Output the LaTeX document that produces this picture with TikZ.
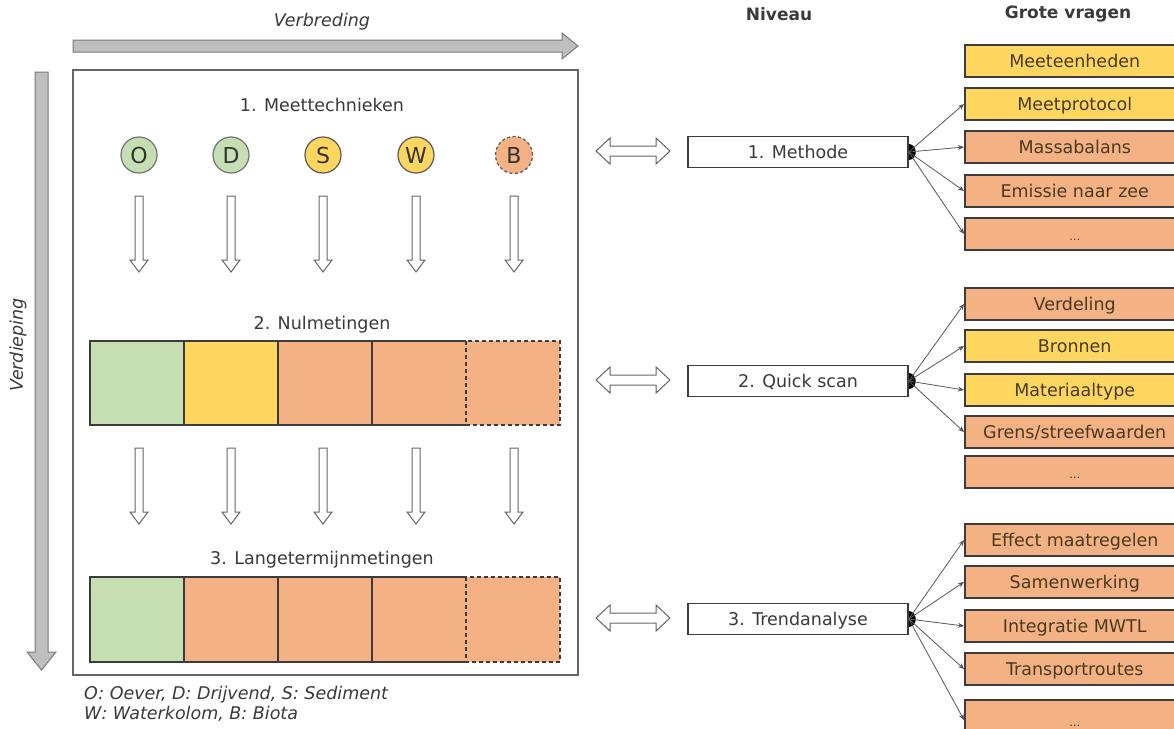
\documentclass[tikz,border=0pt]{standalone}
\usepackage{fontspec}
\setmainfont{DejaVu Sans}
\usetikzlibrary{arrows.meta,backgrounds}
\definecolor{cgreen}{HTML}{C5DFB2}
\definecolor{cyellow}{HTML}{FFD760}
\definecolor{corange}{HTML}{F4B183}
\definecolor{cline}{HTML}{3C3C3C}
\definecolor{qtext}{HTML}{4A3A1E}
\definecolor{ctext}{HTML}{3A3A3A}
\definecolor{bigfill}{HTML}{BFBFBF}
\definecolor{bigline}{HTML}{7A7A7A}
\begin{document}
\begin{tikzpicture}[x=1pt,y=-1pt,
  txt/.style={font=\fontsize{17.5}{20}\selectfont, text=ctext, inner sep=0pt},
  itx/.style={font=\fontsize{17.5}{21}\selectfont\itshape, text=ctext, inner sep=0pt},
  hdr/.style={font=\fontsize{17}{20}\selectfont\bfseries, text=ctext, inner sep=0pt},
  circ/.style={circle, draw, line width=1.2pt, minimum size=36pt, inner sep=0pt, font=\fontsize{22}{24}\selectfont, text=black!80},
  qbox/.style={draw=cline, line width=1.5pt, minimum width=220pt, minimum height=32pt, inner sep=0pt, text height=14pt, text depth=1pt, anchor=west, font=\fontsize{17.5}{20}\selectfont, text=qtext},
  lvl/.style={draw=cline, line width=1.5pt, fill=white, minimum width=220pt, minimum height=31pt, inner sep=0pt, text height=14pt, text depth=1pt, font=\fontsize{17.5}{20}\selectfont, text=ctext},
  conn/.style={draw=black!65, line width=0.8pt, -{Stealth[length=6pt,width=5pt,fill=black]}},
  outarrow/.style={draw=black!60, line width=1pt, fill=white},
  bigarrow/.style={draw=bigline, line width=1pt, fill=bigfill},
  sq/.style={line width=1.3pt, draw=cline},
  dsq/.style={line width=1.3pt, draw=cline, dash pattern=on 4pt off 3pt},
  darrow/.pic={\path[outarrow] (-4,0) -- (4,0) -- (4,64) -- (9,64) -- (0,76) -- (-9,64) -- (-4,64) -- cycle;},
  dblarrow/.pic={\path[outarrow] (0,0) -- (14,-13) -- (14,-5) -- (60,-5) -- (60,-13) -- (74,0) -- (60,13) -- (60,5) -- (14,5) -- (14,13) -- cycle;}
]
\clip (0,0) rectangle (1174,728);
\begin{scope}[on background layer]
  \fill[white] (0,0) rectangle (1174,728);
\end{scope}

% big gray arrows
\node[itx] (verbreding) at (322,22) {Verbreding};
\path[bigarrow] (73,40) -- (562,40) -- (562,33) -- (578,46) -- (562,59) -- (562,52) -- (73,52) -- cycle;
\path[bigarrow] (35,72) -- (48,72) -- (48,652) -- (56,652) -- (41.5,670) -- (27,652) -- (35,652) -- cycle;
\node[itx, rotate=90] (verdieping) at (18,345) {Verdieping};

% main frame
\draw[draw=black!60, line width=1.3pt] (73,70) rectangle (578,675);

% row 1
\node[txt] (h1) at (322,105) {1. Meettechnieken};
\node[circ, fill=cgreen, draw=black!55] (cO) at (139,155) {O};
\node[circ, fill=cgreen, draw=black!55] (cD) at (231,155) {D};
\node[circ, fill=cyellow, draw=black!65] (cS) at (323,155) {S};
\node[circ, fill=cyellow, draw=black!65] (cW) at (416,155) {W};
\node[circ, fill=corange, draw=black!65, dash pattern=on 3pt off 2.5pt, minimum size=37pt] (cB) at (514,155) {B};

\foreach \x in {139,231,323,416,514} {
  \pic at (\x,196) {darrow};
  \pic at (\x,448) {darrow};
}

% row 2
\node[txt] (h2) at (322,325) {2. Nulmetingen};
\fill[cgreen] (90,341) rectangle (184,425);
\fill[cyellow] (184,341) rectangle (278,425);
\fill[corange] (278,341) rectangle (560,425);
\draw[sq] (466,341) -- (90,341) -- (90,425) -- (466,425);
\draw[sq] (184,341) -- (184,425) (278,341) -- (278,425) (372,341) -- (372,425);
\draw[dsq] (466,341) rectangle (560,425);

% row 3
\node[txt] (h3) at (322,560) {3. Langetermijnmetingen};
\fill[cgreen] (90,577) rectangle (184,662);
\fill[corange] (184,577) rectangle (560,662);
\draw[sq] (466,577) -- (90,577) -- (90,662) -- (466,662);
\draw[sq] (184,577) -- (184,662) (278,577) -- (278,662) (372,577) -- (372,662);
\draw[dsq] (466,577) rectangle (560,662);

% legend
\node[itx, anchor=west] (leg1) at (84,695) {O: Oever, D: Drijvend, S: Sediment};
\node[itx, anchor=west] (leg2) at (84,714) {W: Waterkolom, B: Biota};

% headers right
\node[hdr] (niveau) at (779,14) {Niveau};
\node[hdr] (grote) at (1068,14) {Grote vragen};

% double arrows
\pic at (596,151) {dblarrow};
\pic at (596,380) {dblarrow};
\pic at (596,618) {dblarrow};

% level boxes
\node[lvl] (lv1) at (798,152) {1. Methode};
\node[lvl] (lv2) at (798,381) {2. Quick scan};
\node[lvl] (lv3) at (798,619) {3. Trendanalyse};
\begin{scope}[on background layer]
  \foreach \n in {lv1,lv2,lv3} \fill[black] (\n.east) ellipse[x radius=7, y radius=8];
\end{scope}

% question boxes
\node[qbox, fill=cyellow] (q11) at (964,61) {Meeteenheden};
\node[qbox, fill=cyellow] (q12) at (964,104) {Meetprotocol};
\node[qbox, fill=corange] (q13) at (964,147) {Massabalans};
\node[qbox, fill=corange] (q14) at (964,191) {Emissie naar zee};
\node[qbox, fill=corange] (q15) at (964,234) {\fontsize{11}{12}\selectfont\dots};

\node[qbox, fill=corange] (q21) at (964,304) {Verdeling};
\node[qbox, fill=cyellow] (q22) at (964,346) {Bronnen};
\node[qbox, fill=cyellow] (q23) at (964,390) {Materiaaltype};
\node[qbox, fill=corange] (q24) at (964,432) {Grens/streefwaarden};
\node[qbox, fill=corange] (q25) at (964,472) {\fontsize{11}{12}\selectfont\dots};

\node[qbox, fill=corange] (q31) at (964,540) {Effect maatregelen};
\node[qbox, fill=corange] (q32) at (964,582) {Samenwerking};
\node[qbox, fill=corange] (q33) at (964,626) {Integratie MWTL};
\node[qbox, fill=corange] (q34) at (964,669) {Transportroutes};
\node[qbox, fill=corange, minimum height=40pt] (q35) at (964,720) {\fontsize{11}{12}\selectfont\dots};

% connectors
\foreach \q in {q12,q13,q14,q15} \draw[conn] (lv1.east) -- (\q.west);
\foreach \q in {q21,q22,q23,q24} \draw[conn] (lv2.east) -- (\q.west);
\foreach \q in {q31,q32,q33,q34,q35} \draw[conn] (lv3.east) -- (\q.west);
\end{tikzpicture}
\end{document}
